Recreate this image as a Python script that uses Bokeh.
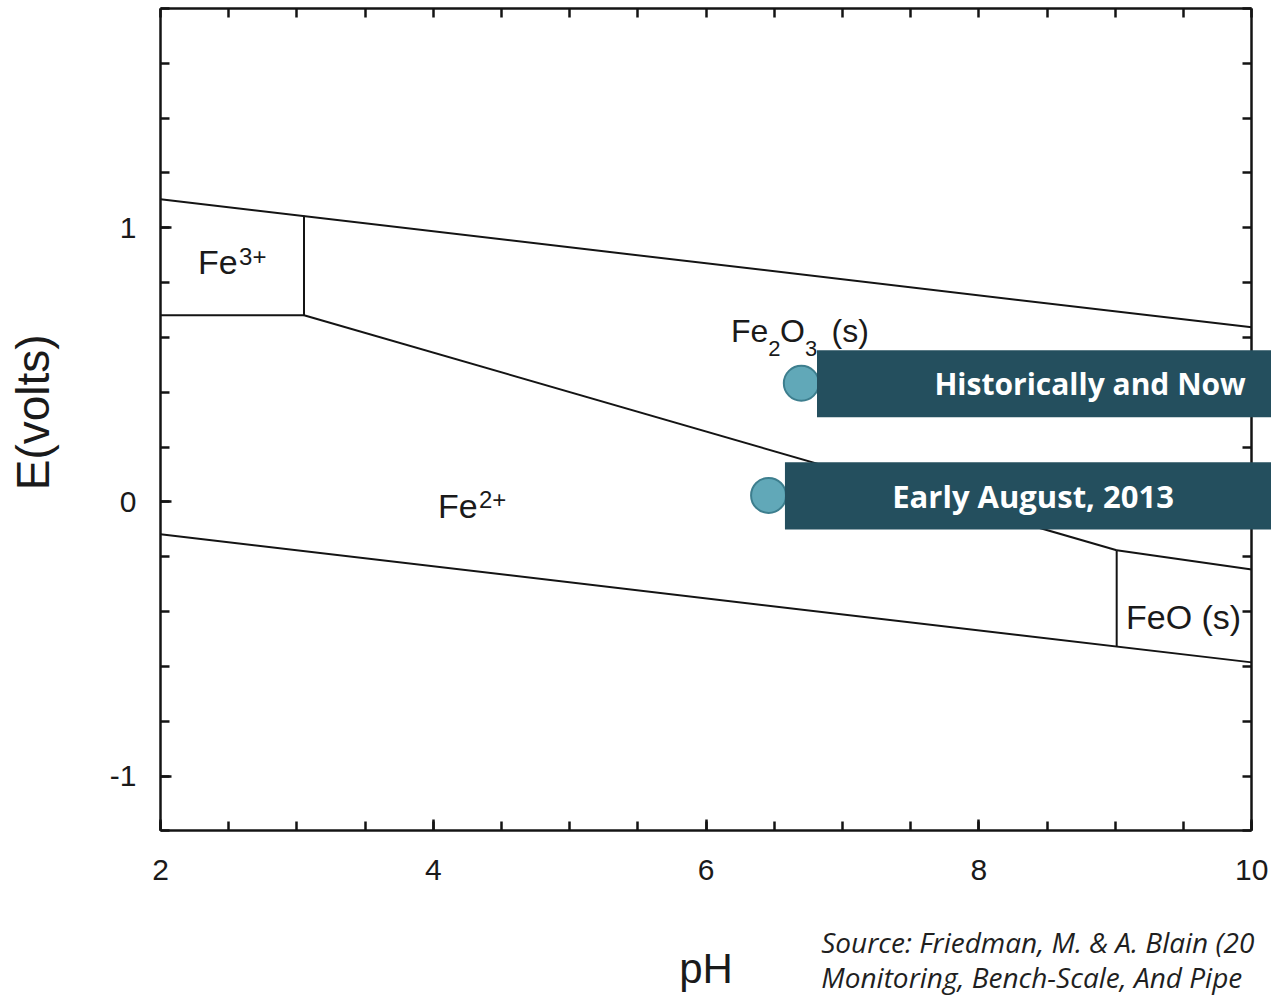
import math
from bokeh.plotting import figure
from bokeh.models import (LinearAxis, Range1d, SingleIntervalTicker, FixedTicker, BoxAnnotation, Label)
from bokeh.embed import file_html
from bokeh.resources import INLINE
from bokeh.core.properties import value

# ---- data ----
ph_min, ph_max = 2.0, 10.0
e_min, e_max = -1.2, 1.8

upper_ph = [2.0, 10.0]
upper_e = [1.104, 0.637]
lower_ph = [2.0, 10.0]
lower_e = [-0.118, -0.585]
fe3_ph = [2.0, 3.052, 3.052]
fe3_e = [0.681, 0.681, 1.044]
fe2o3_ph = [3.052, 9.01]
fe2o3_e = [0.681, -0.176]
feo_top_ph = [9.01, 10.0]
feo_top_e = [-0.176, -0.246]
feo_vert_ph = [9.01, 9.01]
feo_vert_e = [-0.176, -0.527]

# species labels (x = left edge, y = middle of capitals)
species_txt = ["Fe", "Fe", "O", "(s)", "Fe", "FeO (s)"]
species_ph = [2.275, 6.182, 6.541, 6.92, 4.035, 9.078]
species_e = [0.874, 0.625, 0.625, 0.625, -0.016, -0.418]
species_size = ["34px", "32px", "32px", "32px", "34px", "34px"]

script_txt = ["3+", "2", "3", "2+"]
script_ph = [2.576, 6.455, 6.725, 4.335]
script_e = [0.897, 0.560, 0.560, 0.008]
script_size = ["24px", "22px", "22px", "24px"]

point_ph = [6.698, 6.458]
point_e = [0.433, 0.024]
box_labels = ["Historically and Now", "Early August, 2013"]
box_left = [6.813, 6.578]
box_top = [0.5535, 0.145]
box_bottom = [0.309, -0.100]
box_text_ph = [8.815, 8.397]
box_text_size = ["30px", "31px"]

source_lines = ["Source: Friedman, M. & A. Blain (20", "Monitoring, Bench-Scale, And Pipe"]
source_ph = [6.844, 6.844]
source_e = [-1.606, -1.732]

y_title = ["E(volts)"]
y_title_ph = [1.062]
y_title_e = [0.327]

x_major = 2
y_major = 1
top_minor = [2.0 + 0.5 * i for i in range(17)]
right_minor = [round(-1.2 + 0.2 * i, 1) for i in range(16)]

# ---- figure (frame spans the whole canvas; axes are pinned to the diagram box) ----
p = figure(width=1271, height=995, x_range=Range1d(0.827, 10.145), y_range=Range1d(-1.80, 1.829),
           output_backend="svg", toolbar_location=None,
           min_border_left=0, min_border_right=0, min_border_top=0, min_border_bottom=0)
p.grid.visible = False
p.outline_line_color = None
p.background_fill_color = "white"
p.border_fill_color = "white"

ink = "#141414"


def style_axis(ax, ticker):
    ax.ticker = ticker
    ax.axis_line_color = ink
    ax.axis_line_width = 2.5
    ax.major_tick_line_color = ink
    ax.minor_tick_line_color = ink
    ax.major_tick_line_width = 2.5
    ax.minor_tick_line_width = 2.5
    ax.major_tick_in = 11
    ax.major_tick_out = 0
    ax.minor_tick_in = 9
    ax.minor_tick_out = 0
    ax.major_label_text_font = "Liberation Sans"
    ax.major_label_text_font_size = "30px"
    ax.major_label_text_color = "#1a1a1a"
    ax.axis_label_text_font = "Liberation Sans"
    ax.axis_label_text_font_size = "42px"
    ax.axis_label_text_font_style = "normal"
    ax.axis_label_text_color = "#1a1a1a"


xa = p.xaxis[0]
style_axis(xa, SingleIntervalTicker(interval=x_major, num_minor_ticks=4))
xa.fixed_location = e_min
xa.bounds = (ph_min, ph_max)
xa.axis_label = "pH"
xa.major_label_standoff = 29
xa.axis_label_standoff = 62

ya = p.yaxis[0]
style_axis(ya, SingleIntervalTicker(interval=y_major, num_minor_ticks=5))
ya.fixed_location = ph_min
ya.bounds = (e_min, e_max)
ya.major_label_standoff = 24
ya.major_label_overrides = {-1: "-1"}

top_ax = LinearAxis(fixed_location=e_max, bounds=(ph_min, ph_max))
style_axis(top_ax, FixedTicker(ticks=[], minor_ticks=top_minor))
p.add_layout(top_ax, "above")
right_ax = LinearAxis(fixed_location=ph_max, bounds=(e_min, e_max))
style_axis(right_ax, FixedTicker(ticks=[], minor_ticks=right_minor))
p.add_layout(right_ax, "right")

# y-axis title as rotated text
p.text(x=y_title_ph, y=y_title_e, text=y_title, angle=math.pi / 2, text_font=value("Liberation Sans"),
       text_font_size="46px", text_color="#1a1a1a", text_align="center", text_baseline="middle")

# ---- diagram lines ----
for xs, ys in [(upper_ph, upper_e), (lower_ph, lower_e), (fe3_ph, fe3_e), (fe2o3_ph, fe2o3_e),
               (feo_top_ph, feo_top_e), (feo_vert_ph, feo_vert_e)]:
    p.line(xs, ys, line_color=ink, line_width=2)

# ---- species labels ----
p.text(x=species_ph, y=species_e, text=species_txt, text_font=value("Liberation Sans"),
       text_font_size=species_size, text_color="#1a1a1a", text_baseline="middle", text_align="left")
p.text(x=script_ph, y=script_e, text=script_txt, text_font=value("Liberation Sans"),
       text_font_size=script_size, text_color="#1a1a1a", text_baseline="middle", text_align="left")

# ---- markers ----
p.scatter(point_ph, point_e, size=35, fill_color="#61A8B8", line_color="#3D7E8E", line_width=2)

# ---- callout boxes ----
for i in range(len(box_labels)):
    p.add_layout(BoxAnnotation(left=box_left[i], right=10.145, top=box_top[i], bottom=box_bottom[i],
                               fill_color="#244F5E", fill_alpha=1.0, line_color=None))
    p.add_layout(Label(x=box_text_ph[i], y=(box_top[i] + box_bottom[i]) / 2, text=box_labels[i],
                       text_align="center", text_baseline="middle", text_font="Open Sans",
                       text_font_style="bold", text_font_size=box_text_size[i], text_color="white"))

# ---- source ----
p.text(x=source_ph, y=source_e, text=source_lines, text_font=value("Open Sans"),
       text_font_style="italic", text_font_size="28px", text_color="#1f1f1f",
       text_baseline="middle", text_align="left")

open("out.html", "w").write(file_html(p, INLINE))
